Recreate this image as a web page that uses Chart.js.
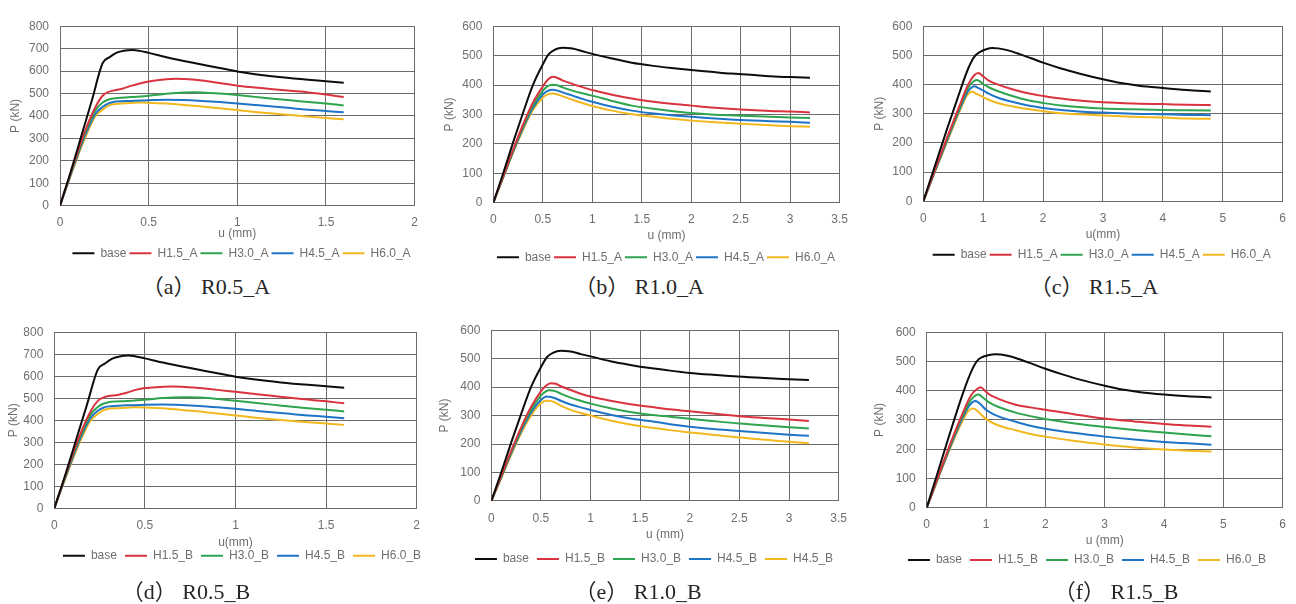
<!DOCTYPE html>
<html>
<head>
<meta charset="utf-8">
<script src="https://cdn.jsdelivr.net/npm/chart.js@4.4.0/dist/chart.umd.min.js"></script>
<style>
  html, body { margin: 0; padding: 0; background: #fff; overflow: hidden; width: 1296px; height: 604px; }
  canvas { position: absolute; }
  .cap { position: absolute; width: 300px; text-align: center; line-height: 26px; white-space: pre;
         font-size: 22px; font-family: "Liberation Serif", "Noto Sans CJK JP", serif; color: #262626; }
</style>
</head>
<body>
<script>
// ---- labels ----
const namesA = ['base', 'H1.5_A', 'H3.0_A', 'H4.5_A', 'H6.0_A'];
const namesB = ['base', 'H1.5_B', 'H3.0_B', 'H4.5_B', 'H6.0_B'];
const namesE = ['base', 'H1.5_B', 'H3.0_B', 'H4.5_B', 'H4.5_B'];
const captions = ['（a） R0.5_A', '（b） R1.0_A', '（c） R1.5_A', '（d） R0.5_B', '（e） R1.0_B', '（f） R1.5_B'];
const xTitles = ['u (mm)', 'u (mm)', 'u(mm)', 'u(mm)', 'u (mm)', 'u (mm)'];
const yTitle = 'P (kN)';
const seriesColors = ['#0d0d0d', '#d9333f', '#2ea44f', '#1e74c6', '#f2b81f'];

// ---- tick labels ----
const xTicksR05 = [0, 0.5, 1, 1.5, 2];
const xTicksR10 = [0, 0.5, 1, 1.5, 2, 2.5, 3, 3.5];
const xTicksR15 = [0, 1, 2, 3, 4, 5, 6];
const yTicks800 = [0, 100, 200, 300, 400, 500, 600, 700, 800];
const yTicks600 = [0, 100, 200, 300, 400, 500, 600];

// ---- (a) R0.5_A  [u (mm), P (kN)] ----
const a_base = [[0,0],[0.06,150],[0.12,310],[0.18,470],[0.24,635],[0.28,662],[0.32,682],[0.36,691],[0.41,694],[0.45,690],[0.5,681],[0.6,662],[0.75,637],[0.9,614],[1.0,598],[1.1,586],[1.25,572],[1.4,561],[1.5,555],[1.6,548]];
const a_h15 = [[0,0],[0.07,170],[0.14,330],[0.2,440],[0.24,490],[0.27,506],[0.3,513],[0.35,521],[0.4,534],[0.45,545],[0.5,554],[0.6,564],[0.65,566],[0.7,565],[0.8,558],[0.9,547],[1.0,535],[1.1,527],[1.2,519],[1.3,512],[1.4,505],[1.5,496],[1.6,484]];
const a_h30 = [[0,0],[0.07,165],[0.14,320],[0.2,425],[0.24,460],[0.27,472],[0.3,478],[0.4,484],[0.5,490],[0.6,499],[0.7,505],[0.75,506],[0.8,505],[0.9,500],[1.0,493],[1.1,485],[1.2,477],[1.3,470],[1.4,462],[1.5,455],[1.6,447]];
const a_h45 = [[0,0],[0.07,160],[0.14,310],[0.2,410],[0.24,440],[0.27,455],[0.3,462],[0.4,467],[0.5,470],[0.6,472],[0.7,471],[0.8,467],[0.9,462],[1.0,456],[1.1,449],[1.2,442],[1.3,435],[1.4,428],[1.5,422],[1.6,416]];
const a_h60 = [[0,0],[0.07,155],[0.14,300],[0.2,400],[0.24,428],[0.27,445],[0.3,452],[0.4,458],[0.45,460],[0.5,459],[0.6,455],[0.7,449],[0.8,442],[0.9,434],[1.0,426],[1.1,418],[1.2,411],[1.3,404],[1.4,397],[1.5,391],[1.6,385]];

// ---- (b) R1.0_A ----
const b_base = [[0,0],[0.1,100],[0.2,205],[0.3,305],[0.4,400],[0.5,470],[0.56,505],[0.62,520],[0.7,527],[0.8,524],[0.9,515],[1.0,506],[1.2,490],[1.4,476],[1.6,466],[1.8,458],[2.0,451],[2.2,445],[2.4,439],[2.6,435],[2.8,430],[3.0,427],[3.2,425]];
const b_h15 = [[0,0],[0.1,90],[0.2,180],[0.3,265],[0.4,340],[0.5,395],[0.55,418],[0.6,428],[0.65,424],[0.7,416],[0.8,404],[0.9,393],[1.0,383],[1.2,367],[1.4,354],[1.6,344],[1.8,336],[2.0,330],[2.2,324],[2.5,317],[2.8,312],[3.0,310],[3.2,307]];
const b_h30 = [[0,0],[0.1,88],[0.2,176],[0.3,258],[0.4,330],[0.5,380],[0.55,396],[0.6,401],[0.65,399],[0.7,392],[0.8,381],[0.9,372],[1.0,364],[1.2,346],[1.4,330],[1.6,320],[1.8,312],[2.0,305],[2.2,300],[2.5,296],[2.8,292],[3.0,290],[3.2,288]];
const b_h45 = [[0,0],[0.1,87],[0.2,173],[0.3,253],[0.4,322],[0.5,368],[0.55,380],[0.6,384],[0.65,381],[0.7,375],[0.8,364],[0.9,353],[1.0,343],[1.2,326],[1.4,313],[1.6,304],[1.8,297],[2.0,292],[2.2,287],[2.5,281],[2.8,277],[3.0,275],[3.2,272]];
const b_h60 = [[0,0],[0.1,85],[0.2,170],[0.3,248],[0.4,315],[0.5,357],[0.55,368],[0.6,371],[0.65,368],[0.7,362],[0.8,350],[0.9,339],[1.0,329],[1.2,313],[1.4,301],[1.6,293],[1.8,285],[2.0,279],[2.2,274],[2.5,268],[2.8,263],[3.0,260],[3.2,258]];

// ---- (c) R1.5_A ----
const c_base = [[0,0],[0.2,125],[0.4,250],[0.6,370],[0.75,455],[0.85,495],[0.95,512],[1.05,521],[1.15,525],[1.25,524],[1.4,518],[1.6,505],[1.8,490],[2.0,475],[2.3,455],[2.6,438],[3.0,418],[3.3,405],[3.6,396],[4.0,388],[4.4,381],[4.8,376]];
const c_h15 = [[0,0],[0.2,110],[0.4,220],[0.6,325],[0.75,400],[0.85,432],[0.92,440],[1.0,428],[1.1,413],[1.25,400],[1.5,383],[1.75,370],[2.0,361],[2.3,352],[2.6,345],[3.0,339],[3.5,335],[4.0,333],[4.4,331],[4.8,330]];
const c_h30 = [[0,0],[0.2,108],[0.4,215],[0.6,318],[0.75,390],[0.83,410],[0.89,416],[0.95,410],[1.0,402],[1.1,390],[1.25,377],[1.5,360],[1.75,346],[2.0,337],[2.3,328],[2.6,323],[3.0,318],[3.5,315],[4.0,313],[4.4,312],[4.8,311]];
const c_h45 = [[0,0],[0.2,106],[0.4,210],[0.6,312],[0.75,378],[0.82,392],[0.86,394],[0.92,388],[1.0,380],[1.1,368],[1.25,355],[1.5,340],[1.75,328],[2.0,320],[2.3,313],[2.6,308],[3.0,304],[3.5,300],[4.0,298],[4.4,296],[4.8,295]];
const c_h60 = [[0,0],[0.2,104],[0.4,205],[0.6,305],[0.72,360],[0.78,373],[0.82,375],[0.88,369],[1.0,357],[1.1,347],[1.25,336],[1.5,325],[1.75,316],[2.0,309],[2.3,302],[2.6,298],[3.0,294],[3.5,290],[4.0,287],[4.4,284],[4.8,283]];

// ---- (d) R0.5_B ----
const d_base = [[0,0],[0.06,150],[0.12,310],[0.18,470],[0.24,630],[0.28,658],[0.32,680],[0.36,690],[0.41,694],[0.45,690],[0.5,681],[0.6,662],[0.75,637],[0.9,614],[1.0,598],[1.1,586],[1.25,572],[1.4,561],[1.5,555],[1.6,548]];
const d_h15 = [[0,0],[0.07,170],[0.14,330],[0.2,440],[0.24,488],[0.27,503],[0.3,510],[0.35,515],[0.4,525],[0.45,538],[0.5,546],[0.6,552],[0.65,553],[0.7,552],[0.8,546],[0.9,538],[1.0,529],[1.1,520],[1.2,511],[1.3,502],[1.4,494],[1.5,486],[1.6,477]];
const d_h30 = [[0,0],[0.07,165],[0.14,320],[0.2,425],[0.24,460],[0.27,475],[0.3,482],[0.4,487],[0.5,493],[0.6,501],[0.7,505],[0.75,505],[0.8,503],[0.9,497],[1.0,489],[1.1,480],[1.2,471],[1.3,462],[1.4,455],[1.5,448],[1.6,440]];
const d_h45 = [[0,0],[0.07,160],[0.14,310],[0.2,410],[0.24,443],[0.27,457],[0.3,463],[0.4,468],[0.5,470],[0.6,471],[0.7,469],[0.8,465],[0.9,459],[1.0,452],[1.1,444],[1.2,436],[1.3,429],[1.4,422],[1.5,416],[1.6,409]];
const d_h60 = [[0,0],[0.07,155],[0.14,300],[0.2,398],[0.24,428],[0.27,445],[0.3,452],[0.4,457],[0.45,459],[0.5,458],[0.6,454],[0.7,447],[0.8,440],[0.9,431],[1.0,422],[1.1,413],[1.2,405],[1.3,398],[1.4,391],[1.5,385],[1.6,379]];

// ---- (e) R1.0_B ----
const e_base = [[0,0],[0.1,100],[0.2,205],[0.3,305],[0.4,400],[0.5,470],[0.56,505],[0.62,520],[0.7,528],[0.8,525],[0.9,516],[1.0,508],[1.2,491],[1.4,478],[1.6,467],[1.8,458],[2.0,450],[2.2,444],[2.4,439],[2.6,435],[2.8,431],[3.0,428],[3.2,425]];
const e_h15 = [[0,0],[0.1,88],[0.2,176],[0.3,258],[0.4,330],[0.5,385],[0.55,405],[0.6,414],[0.65,412],[0.7,403],[0.8,390],[0.9,377],[1.0,367],[1.2,352],[1.4,340],[1.6,331],[1.8,322],[2.0,315],[2.2,308],[2.5,298],[2.8,291],[3.0,286],[3.2,281]];
const e_h30 = [[0,0],[0.1,85],[0.2,172],[0.3,252],[0.4,320],[0.5,370],[0.55,385],[0.58,389],[0.65,385],[0.7,377],[0.8,363],[0.9,352],[1.0,342],[1.2,326],[1.4,313],[1.6,303],[1.8,296],[2.0,289],[2.2,282],[2.5,272],[2.8,264],[3.0,259],[3.2,255]];
const e_h45 = [[0,0],[0.1,83],[0.2,167],[0.3,245],[0.4,310],[0.5,355],[0.56,367],[0.6,365],[0.65,360],[0.7,352],[0.8,339],[0.9,329],[1.0,320],[1.2,303],[1.4,290],[1.6,281],[1.8,270],[2.0,261],[2.2,254],[2.5,246],[2.8,238],[3.0,233],[3.2,229]];
const e_h60 = [[0,0],[0.1,80],[0.2,162],[0.3,238],[0.4,300],[0.5,343],[0.55,352],[0.6,351],[0.65,345],[0.7,335],[0.8,320],[0.9,309],[1.0,300],[1.2,283],[1.4,269],[1.6,258],[1.8,249],[2.0,241],[2.2,234],[2.5,223],[2.8,214],[3.0,208],[3.2,203]];

// ---- (f) R1.5_B ----
const f_base = [[0,0],[0.2,130],[0.4,260],[0.6,385],[0.75,465],[0.85,502],[0.95,516],[1.05,522],[1.15,525],[1.25,524],[1.4,518],[1.6,505],[1.8,490],[2.0,475],[2.3,455],[2.6,437],[3.0,417],[3.3,404],[3.6,395],[4.0,387],[4.4,381],[4.8,377]];
const f_h15 = [[0,0],[0.2,110],[0.4,220],[0.6,320],[0.75,385],[0.85,406],[0.91,412],[0.97,402],[1.05,388],[1.2,373],[1.5,352],[1.75,343],[2.0,335],[2.5,319],[3.0,305],[3.5,295],[4.0,286],[4.4,281],[4.8,277]];
const f_h30 = [[0,0],[0.2,108],[0.4,215],[0.6,312],[0.75,370],[0.83,385],[0.87,387],[0.95,376],[1.05,360],[1.2,345],[1.5,325],[1.75,313],[2.0,303],[2.5,288],[3.0,276],[3.5,266],[4.0,257],[4.4,250],[4.8,244]];
const f_h45 = [[0,0],[0.2,106],[0.4,210],[0.6,305],[0.72,350],[0.78,362],[0.82,365],[0.9,355],[1.0,335],[1.2,313],[1.5,294],[1.75,280],[2.0,270],[2.5,255],[3.0,243],[3.5,233],[4.0,225],[4.4,220],[4.8,215]];
const f_h60 = [[0,0],[0.2,104],[0.4,205],[0.6,295],[0.7,330],[0.77,339],[0.82,336],[0.9,322],[1.0,303],[1.2,282],[1.5,265],[1.75,252],[2.0,243],[2.5,228],[3.0,216],[3.5,206],[4.0,199],[4.4,195],[4.8,192]];

// ---- page layout (pixel positions of each panel) ----
const frames = [
  { plot: { l: 60,    t: 17.7, r: 415.5,  b: 205.7 }, yTitleX: 16,   xTitleY: 233.5, legX: 241.5,  legY: 253.3, capX: 212,    capY: 287,   legPad: 3 },
  { plot: { l: 493.3, t: 17.7, r: 846,    b: 202.7 }, yTitleX: 450,  xTitleY: 236,   legX: 666,    legY: 257.3, capX: 645,    capY: 287,   legPad: 3 },
  { plot: { l: 923.3, t: 17.7, r: 1283.3, b: 201.3 }, yTitleX: 880,  xTitleY: 234.3, legX: 1101.7, legY: 254.7, capX: 1100,   capY: 287.3, legPad: 3 },
  { plot: { l: 54.3,  t: 324,  r: 417.3,  b: 508.3 }, yTitleX: 13.3, xTitleY: 542.3, legX: 242,    legY: 555.7, capX: 192,    capY: 591.7, legPad: 8 },
  { plot: { l: 491.3, t: 322.3, r: 845,   b: 501 },   yTitleX: 445,  xTitleY: 535,   legX: 654,    legY: 559,   capX: 644,    capY: 591.7, legPad: 8 },
  { plot: { l: 926.7, t: 324,  r: 1283.3, b: 507.7 }, yTitleX: 880,  xTitleY: 541,   legX: 1087,   legY: 560,   capX: 1122,   capY: 592.3, legPad: 8 }
];

const panelSeries = [
  [a_base, a_h15, a_h30, a_h45, a_h60],
  [b_base, b_h15, b_h30, b_h45, b_h60],
  [c_base, c_h15, c_h30, c_h45, c_h60],
  [d_base, d_h15, d_h30, d_h45, d_h60],
  [e_base, e_h15, e_h30, e_h45, e_h60],
  [f_base, f_h15, f_h30, f_h45, f_h60]
];
const panelNames = [namesA, namesA, namesA, namesB, namesE, namesB];
const panelXTicks = [xTicksR05, xTicksR10, xTicksR15, xTicksR05, xTicksR10, xTicksR15];
const panelYTicks = [yTicks800, yTicks600, yTicks600, yTicks800, yTicks600, yTicks600];

Chart.defaults.font.family = '"Liberation Sans", Arial, sans-serif';
Chart.defaults.font.size = 12;
Chart.defaults.color = '#6e6e6e';

const GRID = '#6b6b6b';
const FONT = 12;
const LH = FONT * 1.2;

// moves the legend row to the spot it has in the reference
const legendShift = {
  id: 'legendShift',
  afterLayout(chart, args, opts) {
    const lg = chart.legend;
    const p = lg.options.labels.padding;
    const dx = opts.x - (lg.left + lg.right) / 2;
    const dy = opts.y - (lg.top + p + FONT / 2);
    lg.left += dx; lg.right += dx;
    lg.top += dy; lg.bottom += dy;
  }
};

function fixedTicks(values) {
  return function (scale) {
    scale.ticks = values.map(v => ({ value: v }));
  };
}

function makePanel(i) {
  const f = frames[i];
  const L = Math.round(f.yTitleX - LH / 2);
  const T = Math.round(f.plot.t - 10);
  const yw = f.plot.l - L;
  const xh = f.xTitleY - f.plot.b + LH / 2;
  const padTop = f.plot.t - T;
  const W = Math.ceil(f.plot.r + 12 - L);
  const padRight = L + W - f.plot.r;
  const legendH = FONT + f.legPad + 10;
  const inner = f.plot.b - T + xh + legendH;
  const H = Math.ceil(inner);
  const padBottom = H - inner;

  const canvas = document.createElement('canvas');
  canvas.width = W;
  canvas.height = H;
  canvas.style.left = L + 'px';
  canvas.style.top = T + 'px';
  document.body.appendChild(canvas);

  const xt = panelXTicks[i];
  const yt = panelYTicks[i];

  new Chart(canvas, {
    type: 'scatter',
    data: {
      datasets: panelSeries[i].map((pts, k) => ({
        label: panelNames[i][k],
        data: pts.map(p => ({ x: p[0], y: p[1] })),
        borderColor: seriesColors[k],
        backgroundColor: seriesColors[k],
        borderWidth: 2,
        pointRadius: 0,
        showLine: true,
        cubicInterpolationMode: 'monotone'
      }))
    },
    options: {
      responsive: false,
      animation: false,
      layout: { padding: { left: 0, top: padTop, right: padRight, bottom: padBottom } },
      scales: {
        x: {
          type: 'linear',
          min: xt[0],
          max: xt[xt.length - 1],
          afterBuildTicks: fixedTicks(xt),
          afterFit: s => { s.height = xh; },
          grid: { color: GRID, lineWidth: 1, drawTicks: false },
          border: { color: GRID, width: 1 },
          ticks: { padding: 10, maxRotation: 0, callback: v => String(v) },
          title: { display: true, text: xTitles[i], padding: { top: 0, bottom: 0 }, font: { size: FONT } }
        },
        y: {
          type: 'linear',
          min: yt[0],
          max: yt[yt.length - 1],
          afterBuildTicks: fixedTicks(yt),
          afterFit: s => { s.width = yw; },
          grid: { color: GRID, lineWidth: 1, drawTicks: false },
          border: { color: GRID, width: 1 },
          ticks: { padding: 11, callback: v => String(v) },
          title: { display: true, text: yTitle, padding: { top: f.yTitleX - L - LH / 2, bottom: 0 }, font: { size: FONT } }
        }
      },
      plugins: {
        legend: {
          position: 'bottom',
          labels: {
            usePointStyle: true,
            pointStyle: 'line',
            pointStyleWidth: 22,
            boxWidth: 22,
            padding: f.legPad,
            font: { size: FONT },
            color: '#6e6e6e'
          }
        },
        tooltip: { enabled: false },
        legendShift: { x: f.legX - L, y: f.legY - T }
      }
    },
    plugins: [legendShift]
  });

  const cap = document.createElement('div');
  cap.className = 'cap';
  cap.textContent = captions[i];
  cap.style.left = (f.capX - 150 - 6) + 'px';
  cap.style.top = (f.capY - 13) + 'px';
  document.body.appendChild(cap);
}

for (let i = 0; i < frames.length; i++) {
  makePanel(i);
}
</script>
</body>
</html>
